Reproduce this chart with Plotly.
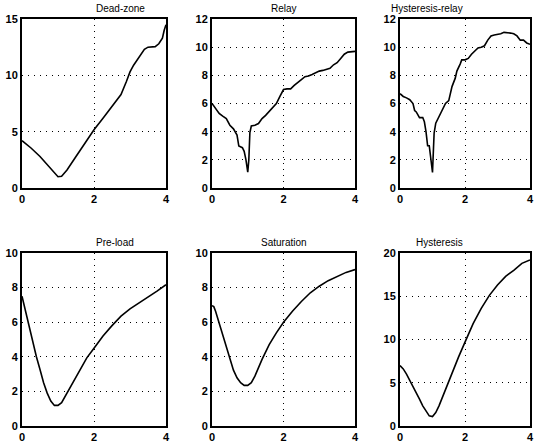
import plotly.graph_objects as go
from plotly.subplots import make_subplots

# ---- data ----
titles = ["Dead-zone", "Relay", "Hysteresis-relay", "Pre-load", "Saturation", "Hysteresis"]

dz_t = [0, 0.25, 0.5, 0.75, 1.0, 1.1, 1.25, 1.5, 1.75, 2.0, 2.25, 2.5, 2.75, 2.9, 3.0, 3.1, 3.25, 3.4, 3.5, 3.7, 3.8, 3.9, 3.95, 4.0]
dz_y = [4.2, 3.55, 2.8, 1.92, 1.0, 1.05, 1.6, 2.8, 4.0, 5.17, 6.2, 7.3, 8.3, 9.45, 10.3, 10.9, 11.57, 12.3, 12.5, 12.55, 12.8, 13.3, 14.0, 14.5]

rl_t = [0, 0.1, 0.2, 0.3, 0.4, 0.5, 0.6, 0.7, 0.75, 0.85, 0.9, 0.95, 1.0, 1.03, 1.06, 1.1, 1.2, 1.3, 1.4, 1.5, 1.6, 1.7, 1.8, 1.9, 2.0, 2.1, 2.2, 2.3, 2.4, 2.5, 2.6, 2.7, 2.8, 2.9, 3.0, 3.1, 3.2, 3.3, 3.4, 3.5, 3.6, 3.7, 3.8, 4.0]
rl_y = [6.0, 5.65, 5.3, 5.1, 4.93, 4.46, 4.2, 3.76, 2.98, 2.86, 2.6, 2.0, 1.13, 2.0, 3.94, 4.4, 4.46, 4.58, 4.93, 5.16, 5.45, 5.7, 6.0, 6.5, 6.99, 7.04, 7.04, 7.28, 7.46, 7.7, 7.9, 7.95, 8.06, 8.2, 8.3, 8.35, 8.4, 8.5, 8.75, 8.9, 9.2, 9.5, 9.65, 9.7]

hr_t = [0, 0.1, 0.2, 0.3, 0.4, 0.45, 0.5, 0.6, 0.7, 0.75, 0.8, 0.85, 0.9, 0.95, 1.0, 1.03, 1.05, 1.1, 1.2, 1.3, 1.4, 1.5, 1.6, 1.7, 1.75, 1.85, 1.9, 2.0, 2.1, 2.2, 2.3, 2.4, 2.5, 2.6, 2.7, 2.8, 2.9, 3.0, 3.1, 3.2, 3.3, 3.4, 3.5, 3.6, 3.7, 3.8, 3.9, 4.0]
hr_y = [6.7, 6.5, 6.4, 6.27, 6.0, 5.5, 5.4, 5.0, 5.0, 4.7, 4.0, 3.0, 3.0, 2.06, 1.1, 2.8, 3.9, 4.6, 5.1, 5.5, 6.0, 6.2, 7.2, 7.8, 8.3, 8.8, 9.1, 9.1, 9.2, 9.5, 9.7, 9.95, 10.0, 10.1, 10.5, 10.8, 10.87, 10.9, 10.95, 11.05, 11.05, 11.0, 10.95, 10.8, 10.5, 10.5, 10.3, 10.2]

pl_t = [0, 0.1, 0.2, 0.3, 0.4, 0.5, 0.6, 0.7, 0.8, 0.9, 1.0, 1.1, 1.2, 1.4, 1.6, 1.8, 2.0, 2.25, 2.5, 2.75, 3.0, 3.25, 3.5, 3.75, 4.0]
pl_y = [7.5, 6.6, 5.77, 4.9, 4.0, 3.27, 2.5, 1.9, 1.44, 1.19, 1.19, 1.35, 1.73, 2.5, 3.27, 3.94, 4.5, 5.2, 5.8, 6.35, 6.77, 7.1, 7.44, 7.8, 8.17]

st_t = [0, 0.05, 0.1, 0.2, 0.3, 0.4, 0.5, 0.6, 0.7, 0.8, 0.9, 1.0, 1.1, 1.2, 1.4, 1.6, 1.8, 2.0, 2.25, 2.5, 2.75, 3.0, 3.25, 3.5, 3.75, 4.0]
st_y = [6.96, 6.9, 6.63, 5.96, 5.29, 4.5, 3.85, 3.23, 2.79, 2.5, 2.35, 2.35, 2.5, 2.88, 3.85, 4.7, 5.38, 6.0, 6.63, 7.2, 7.7, 8.08, 8.4, 8.65, 8.88, 9.04]

hy_t = [0, 0.1, 0.2, 0.3, 0.4, 0.5, 0.6, 0.7, 0.8, 0.9, 1.0, 1.1, 1.2, 1.4, 1.6, 1.8, 2.0, 2.25, 2.5, 2.75, 3.0, 3.25, 3.5, 3.75, 4.0]
hy_y = [6.99, 6.6, 6.0, 5.3, 4.66, 3.9, 3.1, 2.33, 1.67, 1.17, 1.09, 1.55, 2.33, 4.27, 6.2, 7.96, 9.7, 11.84, 13.6, 15.1, 16.3, 17.3, 18.0, 18.8, 19.2]

series = [(dz_t, dz_y), (rl_t, rl_y), (hr_t, hr_y), (pl_t, pl_y), (st_t, st_y), (hy_t, hy_y)]
y_ranges = [(0, 15), (0, 12), (0, 12), (0, 10), (0, 10), (0, 20)]
y_dticks = [5, 2, 2, 2, 2, 5]
x_ticks = [0, 2, 4]

# ---- layout geometry ----
W, H = 545, 447
col_px = [(22, 166), (212, 355), (400, 530)]
row_px = [(19, 188), (253, 426)]

fig = make_subplots(rows=2, cols=3)
tick_font = dict(family="Liberation Sans, Arial, sans-serif", size=11, color="black", weight="bold")
grid = dict(showgrid=True, gridcolor="black", griddash="1px,5px", gridwidth=1)

annotations = []
for i, (t, y) in enumerate(series):
    r, c = divmod(i, 3)
    fig.add_trace(go.Scatter(x=t, y=y, mode="lines", line=dict(color="black", width=1.6),
                             showlegend=False, hoverinfo="skip"), row=r + 1, col=c + 1)
    x0, x1 = col_px[c]
    yt, yb = row_px[r]
    xd = [x0 / W, x1 / W]
    yd = [1 - yb / H, 1 - yt / H]
    n = i + 1
    xa = "xaxis" if n == 1 else f"xaxis{n}"
    ya = "yaxis" if n == 1 else f"yaxis{n}"
    fig.layout[xa].update(domain=xd, range=[0, 4], tickvals=x_ticks, **grid,
                          showline=True, linecolor="black", linewidth=2, mirror=True,
                          zeroline=False, ticks="", tickfont=tick_font, automargin=False,
                          ticklabeloverflow="allow")
    fig.layout[ya].update(domain=yd, range=list(y_ranges[i]), dtick=y_dticks[i], tick0=0, **grid,
                          showline=True, linecolor="black", linewidth=2, mirror=True,
                          zeroline=False, ticks="", tickfont=tick_font, automargin=False,
                          ticklabeloverflow="allow")
    annotations.append(dict(text=titles[i], x=(xd[0] + xd[1]) / 2, y=yd[1], xref="paper", yref="paper",
                            yanchor="bottom", yshift=3, showarrow=False,
                            font=dict(family="Liberation Sans, Arial, sans-serif", size=10, color="black")))

fig.update_layout(width=W, height=H, margin=dict(l=0, r=0, t=0, b=0),
                  plot_bgcolor="white", paper_bgcolor="white", annotations=annotations)
fig.write_html("out.html", config={"displayModeBar": False},
               post_script="document.body.style.margin='0';document.body.style.overflow='hidden';")
